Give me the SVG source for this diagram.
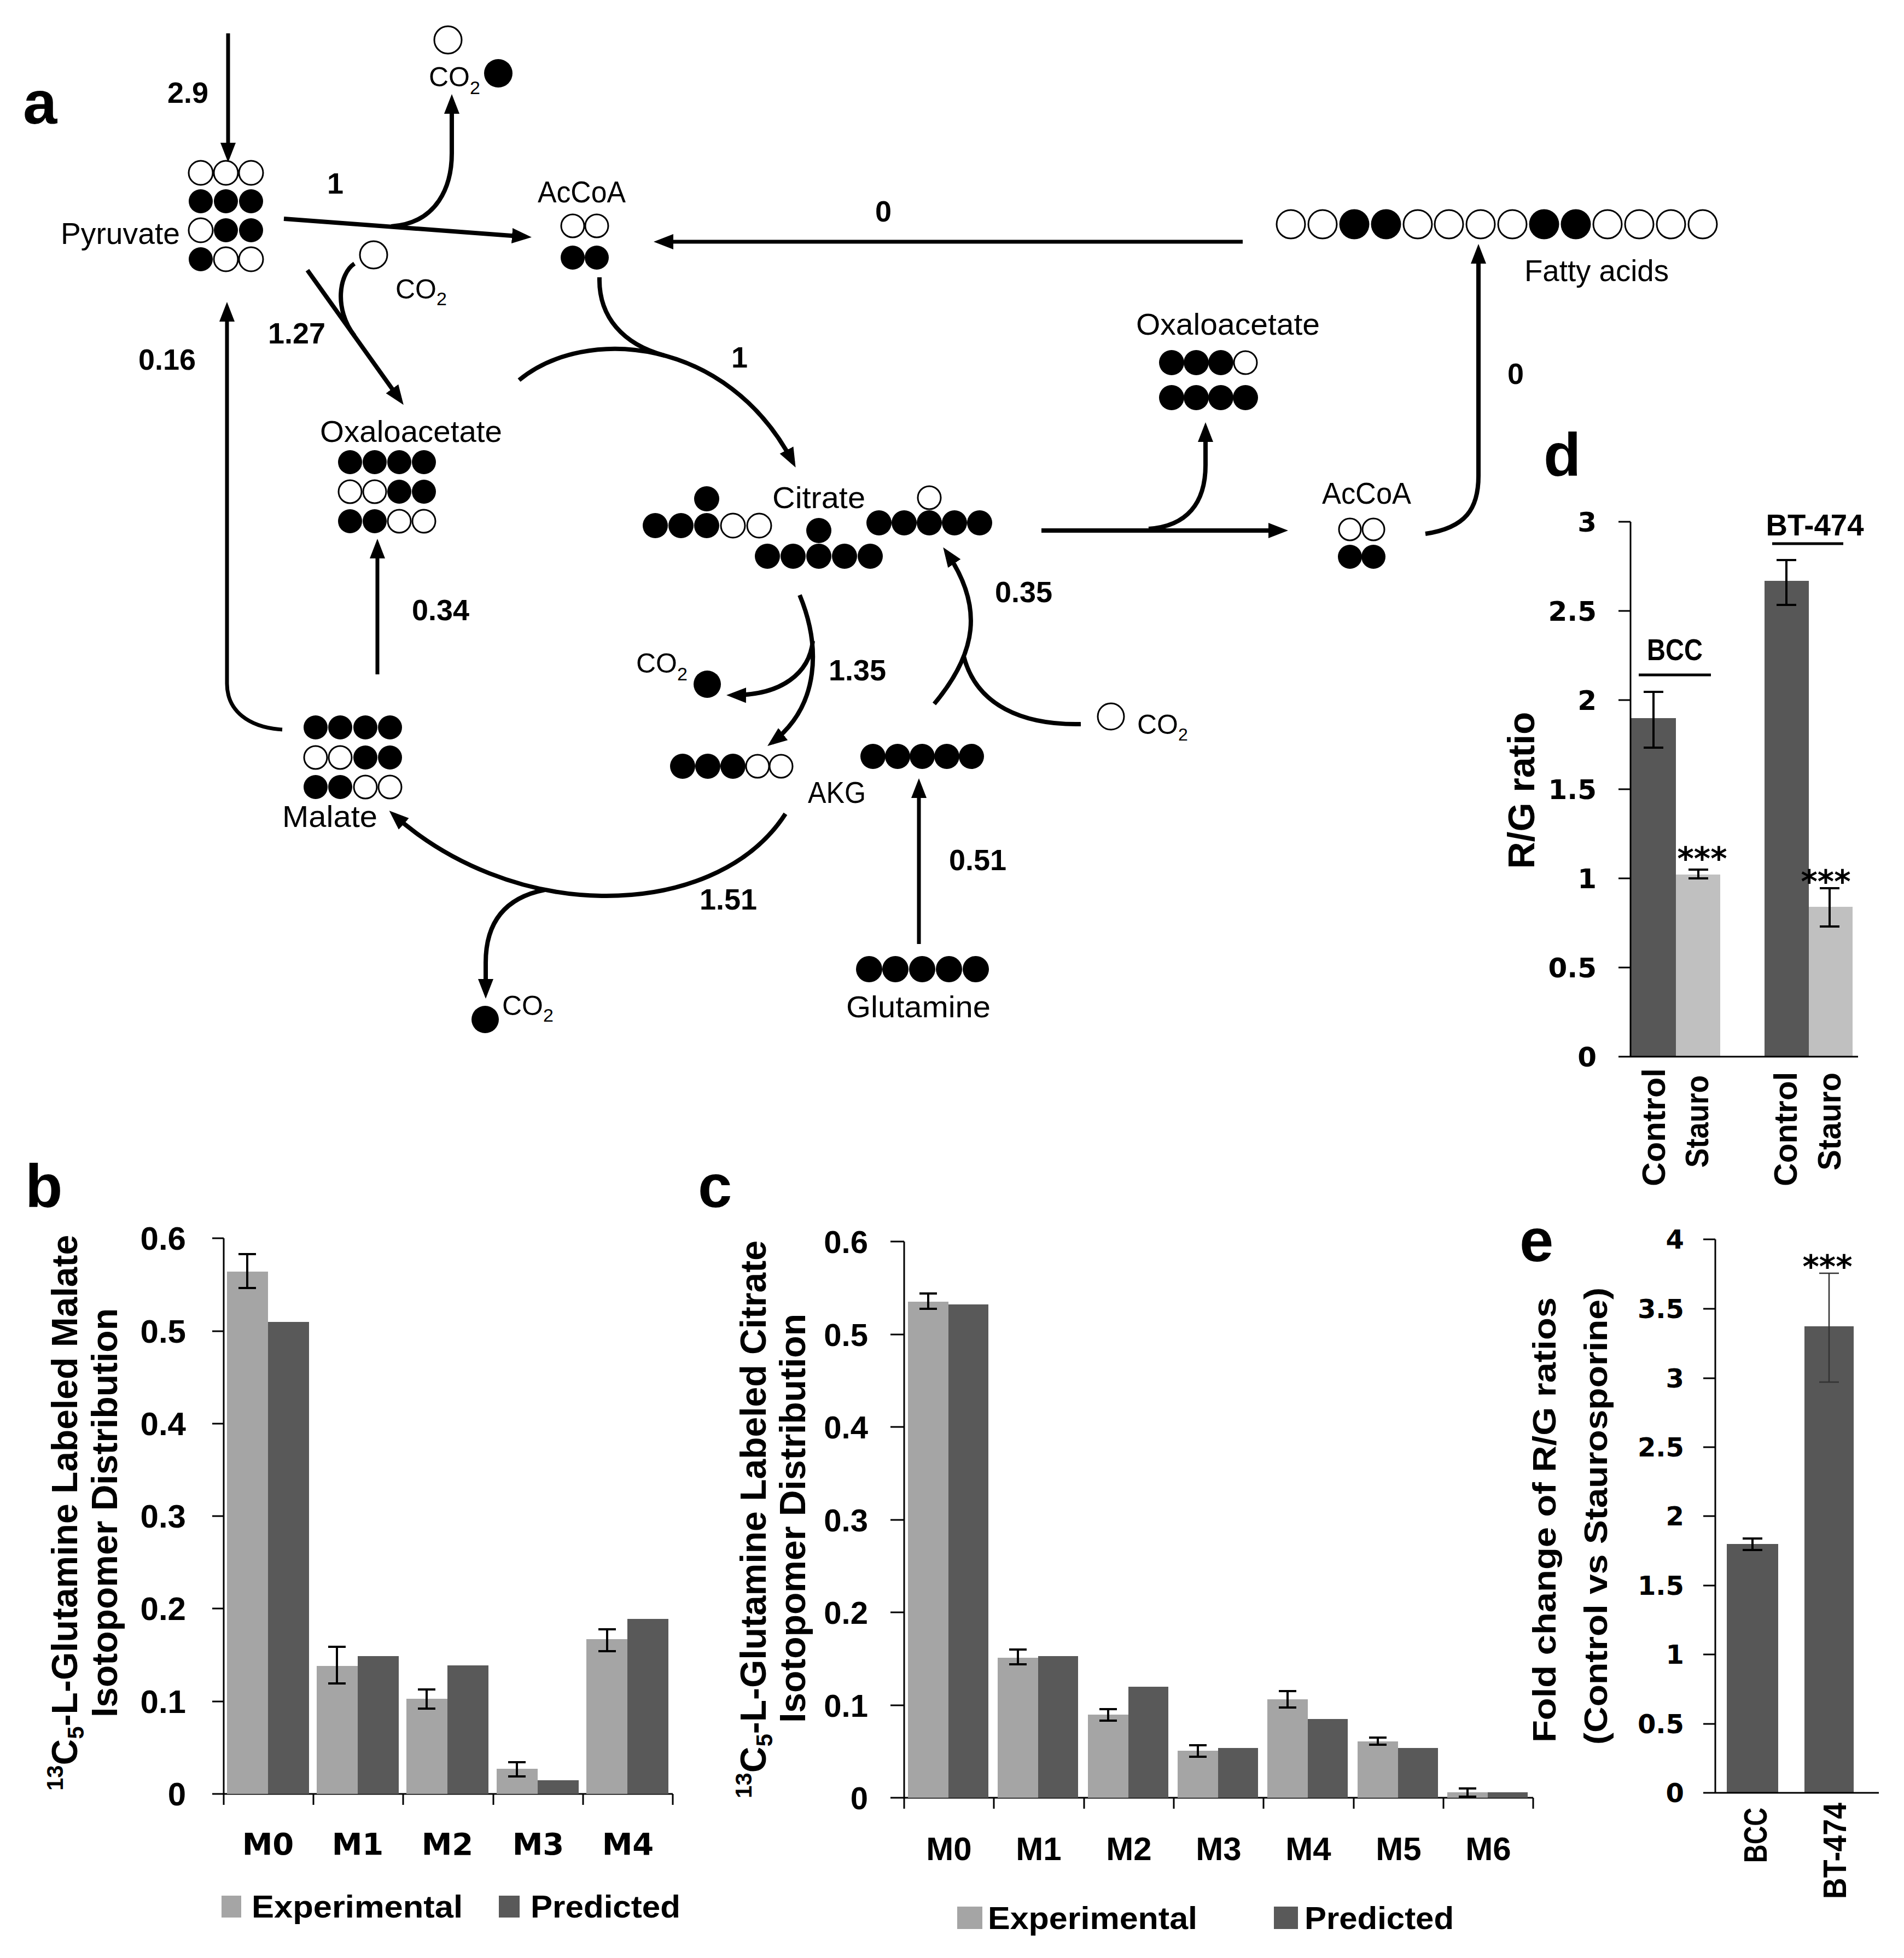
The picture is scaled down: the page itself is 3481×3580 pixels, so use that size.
<svg xmlns="http://www.w3.org/2000/svg" width="3481" height="3580" viewBox="0 0 3481 3580">
<style>
.f{fill:#000}
.o{fill:#fff;stroke:#000;stroke-width:3}
.lbl{font-family:"Liberation Sans",Arial,sans-serif;font-size:55px;fill:#000}
.co{font-family:"Liberation Sans",Arial,sans-serif;font-size:50px;fill:#000}
.num{font-family:"Liberation Sans",Arial,sans-serif;font-size:54px;font-weight:bold;fill:#000}
.pl{font-family:"Liberation Sans",Arial,sans-serif;font-size:112px;font-weight:bold;fill:#000}
.ln{fill:none;stroke:#000;stroke-width:8}
.thin{fill:none;stroke:#000;stroke-width:7}
.ax{fill:none;stroke:#000;stroke-width:3}
.tk{font-family:"Liberation Sans",Arial,sans-serif;font-weight:bold;fill:#000}
.tv{font-family:"DejaVu Sans",Verdana,sans-serif;font-weight:bold;fill:#000}
.exp{fill:#a5a5a5}
.pred{fill:#595959}
.lt{fill:#c0c0c0}
.dk{fill:#575757}
.eb{fill:none;stroke:#000;stroke-width:4}
</style>
<defs>
<marker id="ah" markerUnits="userSpaceOnUse" markerWidth="44" markerHeight="36" viewBox="0 -18 44 36" refX="26" refY="0" orient="auto">
<path d="M0,-14 L36,0 L0,14 Z" fill="#000"/>
</marker>
</defs>
<rect width="3481" height="3580" fill="#fff"/>

<!-- panel letters -->
<g id="panel-letters">
<text class="pl" x="42" y="226">a</text>
<text class="pl" x="46" y="2207">b</text>
<text class="pl" x="1276" y="2207">c</text>
<text class="pl" x="2822" y="870">d</text>
<text class="pl" x="2778" y="2306">e</text>
</g>

<!-- connectors -->
<g id="connectors">
<path class="thin" d="M417,61 V287" marker-end="url(#ah)"/>
<path class="ln" d="M519,400 L962,433" marker-end="url(#ah)"/>
<path class="ln" d="M715,414 C800,408 826,340 826,280 V182" marker-end="url(#ah)"/>
<path class="ln" d="M562,494 L732,732" marker-end="url(#ah)"/>
<path class="ln" d="M648,482 C620,500 610,565 648,614"/>
<path class="thin" d="M516,1334 C455,1330 415,1300 415,1250 V562" marker-end="url(#ah)"/>
<path class="thin" d="M690,1233 V995" marker-end="url(#ah)"/>
<path class="ln" d="M949,695 C1070,595 1330,615 1450,846" marker-end="url(#ah)"/>
<path class="ln" d="M1096,507 C1094,580 1140,630 1215,650"/>
<path class="thin" d="M2272,442 H1205" marker-end="url(#ah)"/>
<path class="ln" d="M1904,970 H2345" marker-end="url(#ah)"/>
<path class="ln" d="M2100,967 C2170,962 2204,920 2204,850 V782" marker-end="url(#ah)"/>
<path class="ln" d="M2606,976 C2680,965 2703,930 2703,870 V456" marker-end="url(#ah)"/>
<path class="ln" d="M1462,1088 C1500,1180 1500,1290 1411,1358" marker-end="url(#ah)"/>
<path class="ln" d="M1486,1172 C1480,1230 1430,1272 1338,1271" marker-end="url(#ah)"/>
<path class="ln" d="M1708,1287 C1785,1195 1800,1110 1730,1009" marker-end="url(#ah)"/>
<path class="ln" d="M1976,1324 C1870,1326 1785,1290 1762,1200"/>
<path class="thin" d="M1680,1726 V1433" marker-end="url(#ah)"/>
<path class="ln" d="M1436,1488 C1370,1590 1240,1640 1100,1638 C960,1636 820,1580 719,1489" marker-end="url(#ah)"/>
<path class="ln" d="M996,1627 C920,1642 888,1690 888,1760 V1816" marker-end="url(#ah)"/>
</g>

<!-- flux labels -->
<g id="flux-labels">
<text class="num" x="306" y="188">2.9</text>
<text class="num" x="598" y="354">1</text>
<text class="num" x="490" y="628">1.27</text>
<text class="num" x="253" y="676">0.16</text>
<text class="num" x="1600" y="405">0</text>
<text class="num" x="1337" y="672">1</text>
<text class="num" x="2756" y="702">0</text>
<text class="num" x="753" y="1134">0.34</text>
<text class="num" x="1515" y="1244">1.35</text>
<text class="num" x="1819" y="1101">0.35</text>
<text class="num" x="1279" y="1663">1.51</text>
<text class="num" x="1735" y="1591">0.51</text>
</g>

<!-- CO2 nodes -->
<g id="co2-top">
<circle class="o" cx="819" cy="73" r="25"/>
<circle class="f" cx="911" cy="134" r="26"/>
<text class="co" x="784" y="158">CO<tspan font-size="34" dy="14">2</tspan></text>
</g>
<g id="co2-pyruvate">
<circle class="o" cx="683" cy="466" r="25"/>
<text class="co" x="723" y="546">CO<tspan font-size="34" dy="12">2</tspan></text>
</g>
<g id="co2-citrate">
<circle class="f" cx="1293" cy="1251" r="25"/>
<text class="co" x="1163" y="1230">CO<tspan font-size="34" dy="14">2</tspan></text>
</g>
<g id="co2-right">
<circle class="o" cx="2031" cy="1310" r="24"/>
<text class="co" x="2079" y="1342" font-size="46">CO<tspan font-size="32" dy="12">2</tspan></text>
</g>
<g id="co2-bottom">
<circle class="f" cx="887" cy="1864" r="25"/>
<text class="co" x="918" y="1856">CO<tspan font-size="34" dy="12">2</tspan></text>
</g>

<!-- Pyruvate -->
<g id="pyruvate">
<text class="lbl" x="111" y="446" textLength="218" lengthAdjust="spacingAndGlyphs">Pyruvate</text>
<circle class="o" cx="367" cy="316" r="22"/><circle class="o" cx="413" cy="316" r="22"/><circle class="o" cx="459" cy="316" r="22"/>
<circle class="f" cx="367" cy="368" r="22"/><circle class="f" cx="413" cy="368" r="22"/><circle class="f" cx="459" cy="368" r="22"/>
<circle class="o" cx="367" cy="421" r="22"/><circle class="f" cx="413" cy="421" r="22"/><circle class="f" cx="459" cy="421" r="22"/>
<circle class="f" cx="367" cy="474" r="22"/><circle class="o" cx="413" cy="474" r="22"/><circle class="o" cx="459" cy="474" r="22"/>
</g>

<!-- AcCoA (left) -->
<g id="accoa-1">
<text class="lbl" x="983" y="370" textLength="161" lengthAdjust="spacingAndGlyphs">AcCoA</text>
<circle class="o" cx="1047" cy="413" r="21"/><circle class="o" cx="1091" cy="413" r="21"/>
<circle class="f" cx="1047" cy="471" r="22"/><circle class="f" cx="1091" cy="471" r="22"/>
</g>

<!-- Oxaloacetate (left) -->
<g id="oxaloacetate-1">
<text class="lbl" x="585" y="808" textLength="333" lengthAdjust="spacingAndGlyphs">Oxaloacetate</text>
<circle class="f" cx="640" cy="845" r="22"/><circle class="f" cx="685" cy="845" r="22"/><circle class="f" cx="730" cy="845" r="22"/><circle class="f" cx="775" cy="845" r="22"/>
<circle class="o" cx="640" cy="899" r="21"/><circle class="o" cx="685" cy="899" r="21"/><circle class="f" cx="730" cy="899" r="22"/><circle class="f" cx="775" cy="899" r="22"/>
<circle class="f" cx="640" cy="953" r="22"/><circle class="f" cx="685" cy="953" r="22"/><circle class="o" cx="730" cy="953" r="21"/><circle class="o" cx="775" cy="953" r="21"/>
</g>

<!-- Citrate -->
<g id="citrate">
<text class="lbl" x="1412" y="929" textLength="170" lengthAdjust="spacingAndGlyphs">Citrate</text>
<circle class="f" cx="1292" cy="912" r="23"/>
<circle class="f" cx="1198" cy="961" r="23"/><circle class="f" cx="1245" cy="961" r="23"/><circle class="f" cx="1292" cy="961" r="23"/><circle class="o" cx="1340" cy="961" r="22"/><circle class="o" cx="1388" cy="961" r="22"/>
<circle class="f" cx="1497" cy="970" r="23"/>
<circle class="f" cx="1403" cy="1017" r="23"/><circle class="f" cx="1450" cy="1017" r="23"/><circle class="f" cx="1497" cy="1017" r="23"/><circle class="f" cx="1544" cy="1017" r="23"/><circle class="f" cx="1591" cy="1017" r="23"/>
<circle class="o" cx="1699" cy="910" r="21"/>
<circle class="f" cx="1607" cy="956" r="23"/><circle class="f" cx="1653" cy="956" r="23"/><circle class="f" cx="1699" cy="956" r="23"/><circle class="f" cx="1745" cy="956" r="23"/><circle class="f" cx="1791" cy="956" r="23"/>
</g>

<!-- AKG -->
<g id="akg">
<text class="lbl" x="1477" y="1468" textLength="106" lengthAdjust="spacingAndGlyphs">AKG</text>
<circle class="f" cx="1248" cy="1401" r="23"/><circle class="f" cx="1294" cy="1401" r="23"/><circle class="f" cx="1340" cy="1401" r="23"/><circle class="o" cx="1385" cy="1401" r="21"/><circle class="o" cx="1428" cy="1401" r="21"/>
<circle class="f" cx="1596" cy="1383" r="23"/><circle class="f" cx="1641" cy="1383" r="23"/><circle class="f" cx="1686" cy="1383" r="23"/><circle class="f" cx="1731" cy="1383" r="23"/><circle class="f" cx="1776" cy="1383" r="23"/>
</g>

<!-- Malate -->
<g id="malate">
<text class="lbl" x="516" y="1512" textLength="174" lengthAdjust="spacingAndGlyphs">Malate</text>
<circle class="f" cx="577" cy="1330" r="22"/><circle class="f" cx="622" cy="1330" r="22"/><circle class="f" cx="668" cy="1330" r="22"/><circle class="f" cx="713" cy="1330" r="22"/>
<circle class="o" cx="577" cy="1385" r="21"/><circle class="o" cx="622" cy="1385" r="21"/><circle class="f" cx="668" cy="1385" r="22"/><circle class="f" cx="713" cy="1385" r="22"/>
<circle class="f" cx="577" cy="1439" r="22"/><circle class="f" cx="622" cy="1439" r="22"/><circle class="o" cx="668" cy="1439" r="21"/><circle class="o" cx="713" cy="1439" r="21"/>
</g>

<!-- Glutamine -->
<g id="glutamine">
<text class="lbl" x="1547" y="1860" textLength="264" lengthAdjust="spacingAndGlyphs">Glutamine</text>
<circle class="f" cx="1589" cy="1772" r="24"/><circle class="f" cx="1637" cy="1772" r="24"/><circle class="f" cx="1686" cy="1772" r="24"/><circle class="f" cx="1735" cy="1772" r="24"/><circle class="f" cx="1784" cy="1772" r="24"/>
</g>

<!-- Oxaloacetate (right) -->
<g id="oxaloacetate-2">
<text class="lbl" x="2077" y="612" textLength="336" lengthAdjust="spacingAndGlyphs">Oxaloacetate</text>
<circle class="f" cx="2142" cy="663" r="23"/><circle class="f" cx="2187" cy="663" r="23"/><circle class="f" cx="2232" cy="663" r="23"/><circle class="o" cx="2277" cy="663" r="21"/>
<circle class="f" cx="2142" cy="727" r="23"/><circle class="f" cx="2187" cy="727" r="23"/><circle class="f" cx="2232" cy="727" r="23"/><circle class="f" cx="2277" cy="727" r="23"/>
</g>

<!-- AcCoA (right) -->
<g id="accoa-2">
<text class="lbl" x="2417" y="921" textLength="163" lengthAdjust="spacingAndGlyphs">AcCoA</text>
<circle class="o" cx="2468" cy="968" r="20"/><circle class="o" cx="2511" cy="968" r="20"/>
<circle class="f" cx="2468" cy="1018" r="22"/><circle class="f" cx="2511" cy="1018" r="22"/>
</g>

<!-- Fatty acids -->
<g id="fatty-acids">
<text class="lbl" x="2787" y="514" textLength="264" lengthAdjust="spacingAndGlyphs">Fatty acids</text>
<circle class="o" cx="2360" cy="410" r="26"/><circle class="o" cx="2418" cy="410" r="26"/><circle class="f" cx="2476" cy="410" r="27.5"/><circle class="f" cx="2534" cy="410" r="27.5"/>
<circle class="o" cx="2592" cy="410" r="26"/><circle class="o" cx="2649" cy="410" r="26"/><circle class="o" cx="2707" cy="410" r="26"/><circle class="o" cx="2765" cy="410" r="26"/>
<circle class="f" cx="2823" cy="410" r="27.5"/><circle class="f" cx="2881" cy="410" r="27.5"/><circle class="o" cx="2939" cy="410" r="26"/><circle class="o" cx="2997" cy="410" r="26"/>
<circle class="o" cx="3055" cy="410" r="26"/><circle class="o" cx="3113" cy="410" r="26"/>
</g>

<!-- Panel b -->
<g id="panel-b">
<g class="ax">
<path d="M409,2264 V3280 H1230"/>
<path d="M388,2264 H409 M388,2434 H409 M388,2603 H409 M388,2772 H409 M388,2941 H409 M388,3111 H409 M388,3280 H409"/>
<path d="M409,3280 V3300 M573,3280 V3300 M737,3280 V3300 M902,3280 V3300 M1066,3280 V3300 M1230,3280 V3300"/>
</g>
<g class="tk" font-size="60" text-anchor="end">
<text x="340" y="3301">0</text><text x="340" y="3132">0.1</text><text x="340" y="2962">0.2</text><text x="340" y="2793">0.3</text><text x="340" y="2624">0.4</text><text x="340" y="2455">0.5</text><text x="340" y="2285">0.6</text>
</g>
<rect class="exp" x="415" y="2325" width="75" height="955"/><rect class="pred" x="490" y="2417" width="75" height="863"/>
<rect class="exp" x="579" y="3046" width="75" height="234"/><rect class="pred" x="654" y="3028" width="75" height="252"/>
<rect class="exp" x="743" y="3106" width="75" height="174"/><rect class="pred" x="818" y="3045" width="75" height="235"/>
<rect class="exp" x="908" y="3234" width="75" height="46"/><rect class="pred" x="983" y="3255" width="75" height="25"/>
<rect class="exp" x="1072" y="2997" width="75" height="283"/><rect class="pred" x="1147" y="2960" width="75" height="320"/>
<path class="eb" d="M452,2293 V2355 M436,2293 H468 M436,2355 H468"/>
<path class="eb" d="M616,3011 V3078 M600,3011 H632 M600,3078 H632"/>
<path class="eb" d="M780,3089 V3124 M764,3089 H796 M764,3124 H796"/>
<path class="eb" d="M945,3222 V3248 M929,3222 H961 M929,3248 H961"/>
<path class="eb" d="M1110,2979 V3019 M1094,2979 H1126 M1094,3019 H1126"/>
<g class="tv" font-size="56" text-anchor="middle">
<text x="490" y="3391">M0</text><text x="654" y="3391">M1</text><text x="818" y="3391">M2</text><text x="984" y="3391">M3</text><text x="1148" y="3391">M4</text>
</g>
<rect class="exp" x="405" y="3466" width="36" height="40"/>
<text class="tk" font-size="58" x="460" y="3506" textLength="386" lengthAdjust="spacingAndGlyphs">Experimental</text>
<rect class="pred" x="912" y="3466" width="38" height="40"/>
<text class="tk" font-size="58" x="970" y="3506" textLength="274" lengthAdjust="spacingAndGlyphs">Predicted</text>
<text class="tk" font-size="66" text-anchor="middle" transform="translate(141,2766) rotate(-90)"><tspan font-size="42" dy="-26">13</tspan><tspan dy="26">C</tspan><tspan font-size="42" dy="12">5</tspan><tspan dy="-12">-L-Glutamine Labeled Malate</tspan></text>
<text class="tk" font-size="66" text-anchor="middle" transform="translate(214,2766) rotate(-90)">Isotopomer Distribution</text>
</g>

<!-- Panel c -->
<g id="panel-c">
<g class="ax">
<path d="M1653,2270 V3287 H2803"/>
<path d="M1628,2270 H1653 M1628,2440 H1653 M1628,2609 H1653 M1628,2779 H1653 M1628,2948 H1653 M1628,3118 H1653 M1628,3287 H1653"/>
<path d="M1653,3287 V3307 M1817,3287 V3307 M1982,3287 V3307 M2146,3287 V3307 M2310,3287 V3307 M2475,3287 V3307 M2639,3287 V3307 M2803,3287 V3307"/>
</g>
<g class="tk" font-size="58" text-anchor="end">
<text x="1587" y="3308">0</text><text x="1587" y="3139">0.1</text><text x="1587" y="2969">0.2</text><text x="1587" y="2800">0.3</text><text x="1587" y="2630">0.4</text><text x="1587" y="2461">0.5</text><text x="1587" y="2291">0.6</text>
</g>
<rect class="exp" x="1660" y="2380" width="74" height="907"/><rect class="pred" x="1734" y="2385" width="73" height="902"/>
<rect class="exp" x="1824" y="3031" width="74" height="256"/><rect class="pred" x="1898" y="3028" width="73" height="259"/>
<rect class="exp" x="1989" y="3135" width="74" height="152"/><rect class="pred" x="2063" y="3084" width="73" height="203"/>
<rect class="exp" x="2153" y="3201" width="74" height="86"/><rect class="pred" x="2227" y="3196" width="73" height="91"/>
<rect class="exp" x="2317" y="3107" width="74" height="180"/><rect class="pred" x="2391" y="3143" width="73" height="144"/>
<rect class="exp" x="2482" y="3184" width="74" height="103"/><rect class="pred" x="2556" y="3196" width="73" height="91"/>
<rect class="exp" x="2646" y="3277" width="74" height="10"/><rect class="pred" x="2720" y="3277" width="73" height="10"/>
<path class="eb" d="M1697,2365 V2393 M1681,2365 H1713 M1681,2393 H1713"/>
<path class="eb" d="M1861,3016 V3043 M1845,3016 H1877 M1845,3043 H1877"/>
<path class="eb" d="M2026,3125 V3146 M2010,3125 H2042 M2010,3146 H2042"/>
<path class="eb" d="M2190,3191 V3212 M2174,3191 H2206 M2174,3212 H2206"/>
<path class="eb" d="M2354,3092 V3122 M2338,3092 H2370 M2338,3122 H2370"/>
<path class="eb" d="M2519,3177 V3190 M2503,3177 H2535 M2503,3190 H2535"/>
<path class="eb" d="M2683,3270 V3285 M2667,3270 H2699 M2667,3285 H2699"/>
<g class="tk" font-size="60" text-anchor="middle">
<text x="1735" y="3401">M0</text><text x="1899" y="3401">M1</text><text x="2064" y="3401">M2</text><text x="2228" y="3401">M3</text><text x="2392" y="3401">M4</text><text x="2557" y="3401">M5</text><text x="2721" y="3401">M6</text>
</g>
<rect class="exp" x="1750" y="3486" width="46" height="41"/>
<text class="tk" font-size="58" x="1806" y="3527" textLength="383" lengthAdjust="spacingAndGlyphs">Experimental</text>
<rect class="pred" x="2329" y="3486" width="44" height="41"/>
<text class="tk" font-size="58" x="2385" y="3527" textLength="273" lengthAdjust="spacingAndGlyphs">Predicted</text>
<text class="tk" font-size="66" text-anchor="middle" transform="translate(1400,2778) rotate(-90)"><tspan font-size="42" dy="-26">13</tspan><tspan dy="26">C</tspan><tspan font-size="42" dy="12">5</tspan><tspan dy="-12">-L-Glutamine Labeled Citrate</tspan></text>
<text class="tk" font-size="66" text-anchor="middle" transform="translate(1472,2776) rotate(-90)">Isotopomer Distribution</text>
</g>

<!-- Panel d -->
<g id="panel-d">
<rect class="dk" x="2981" y="1313" width="83" height="619"/>
<rect class="lt" x="3064" y="1599" width="81" height="333"/>
<rect class="dk" x="3226" y="1062" width="81" height="870"/>
<rect class="lt" x="3307" y="1658" width="80" height="274"/>
<g class="ax">
<path d="M2981,954 V1932 M2959,1932 H3397"/>
<path d="M2959,954 H2981 M2959,1117 H2981 M2959,1280 H2981 M2959,1443 H2981 M2959,1606 H2981 M2959,1769 H2981"/>
</g>
<path class="eb" d="M3023,1265 V1367 M3005,1265 H3041 M3005,1367 H3041"/>
<path class="eb" d="M3105,1590 V1606 M3087,1590 H3123 M3087,1606 H3123"/>
<path class="eb" d="M3266,1024 V1106 M3248,1024 H3284 M3248,1106 H3284"/>
<path class="eb" d="M3345,1624 V1694 M3327,1624 H3363 M3327,1694 H3363"/>
<g class="tv" font-size="50" text-anchor="end">
<text x="2919" y="1950">0</text><text x="2919" y="1787">0.5</text><text x="2919" y="1624">1</text><text x="2919" y="1461">1.5</text><text x="2919" y="1298">2</text><text x="2919" y="1135">2.5</text><text x="2919" y="972">3</text>
</g>
<text class="tv" font-size="58" x="3112" y="1590" text-anchor="middle">***</text>
<text class="tv" font-size="58" x="3338" y="1632" text-anchor="middle">***</text>
<text class="tk" font-size="56" x="3062" y="1207" text-anchor="middle" textLength="102" lengthAdjust="spacingAndGlyphs">BCC</text>
<path d="M2996,1234 H3128" stroke="#000" stroke-width="5"/>
<text class="tk" font-size="56" x="3318" y="979" text-anchor="middle" textLength="179" lengthAdjust="spacingAndGlyphs">BT-474</text>
<path d="M3240,994 H3370" stroke="#000" stroke-width="5"/>
<text class="tk" font-size="68" text-anchor="middle" transform="translate(2805,1445) rotate(-90)">R/G ratio</text>
<text class="tk" font-size="60" text-anchor="end" transform="translate(3044,1953) rotate(-90)" textLength="216" lengthAdjust="spacingAndGlyphs">Control</text>
<text class="tk" font-size="60" text-anchor="end" transform="translate(3123,1966) rotate(-90)" textLength="169" lengthAdjust="spacingAndGlyphs">Stauro</text>
<text class="tk" font-size="60" text-anchor="end" transform="translate(3285,1960) rotate(-90)" textLength="209" lengthAdjust="spacingAndGlyphs">Control</text>
<text class="tk" font-size="60" text-anchor="end" transform="translate(3365,1961) rotate(-90)" textLength="179" lengthAdjust="spacingAndGlyphs">Stauro</text>
</g>

<!-- Panel e -->
<g id="panel-e">
<rect class="dk" x="3157" y="2823" width="94" height="455"/>
<rect class="dk" x="3299" y="2425" width="90" height="853"/>
<g class="ax">
<path d="M3136,2266 V3278 M3114,3278 H3435"/>
<path d="M3114,2266 H3136 M3114,2393 H3136 M3114,2520 H3136 M3114,2646 H3136 M3114,2772 H3136 M3114,2899 H3136 M3114,3025 H3136 M3114,3152 H3136"/>
</g>
<path class="eb" d="M3204,2813 V2834 M3186,2813 H3222 M3186,2834 H3222"/>
<path d="M3344,2328 V2527 M3326,2328 H3362 M3326,2527 H3362" fill="none" stroke="#333" stroke-width="2.5"/>
<g class="tv" font-size="48" text-anchor="end">
<text x="3079" y="3295">0</text><text x="3079" y="3169">0.5</text><text x="3079" y="3042">1</text><text x="3079" y="2916">1.5</text><text x="3079" y="2789">2</text><text x="3079" y="2663">2.5</text><text x="3079" y="2537">3</text><text x="3079" y="2410">3.5</text><text x="3079" y="2283">4</text>
</g>
<text class="tv" font-size="58" x="3341" y="2336" text-anchor="middle">***</text>
<text class="tk" font-size="60" text-anchor="end" transform="translate(3230,3305) rotate(-90)" textLength="101" lengthAdjust="spacingAndGlyphs">BCC</text>
<text class="tk" font-size="60" text-anchor="end" transform="translate(3375,3296) rotate(-90)" textLength="176" lengthAdjust="spacingAndGlyphs">BT-474</text>
<text class="tk" font-size="60" text-anchor="middle" transform="translate(2844,2779) rotate(-90)" textLength="814" lengthAdjust="spacingAndGlyphs">Fold change of R/G ratios</text>
<text class="tk" font-size="60" text-anchor="middle" transform="translate(2938,2772) rotate(-90)" textLength="836" lengthAdjust="spacingAndGlyphs">(Control vs Staurosporine)</text>
</g>
</svg>
